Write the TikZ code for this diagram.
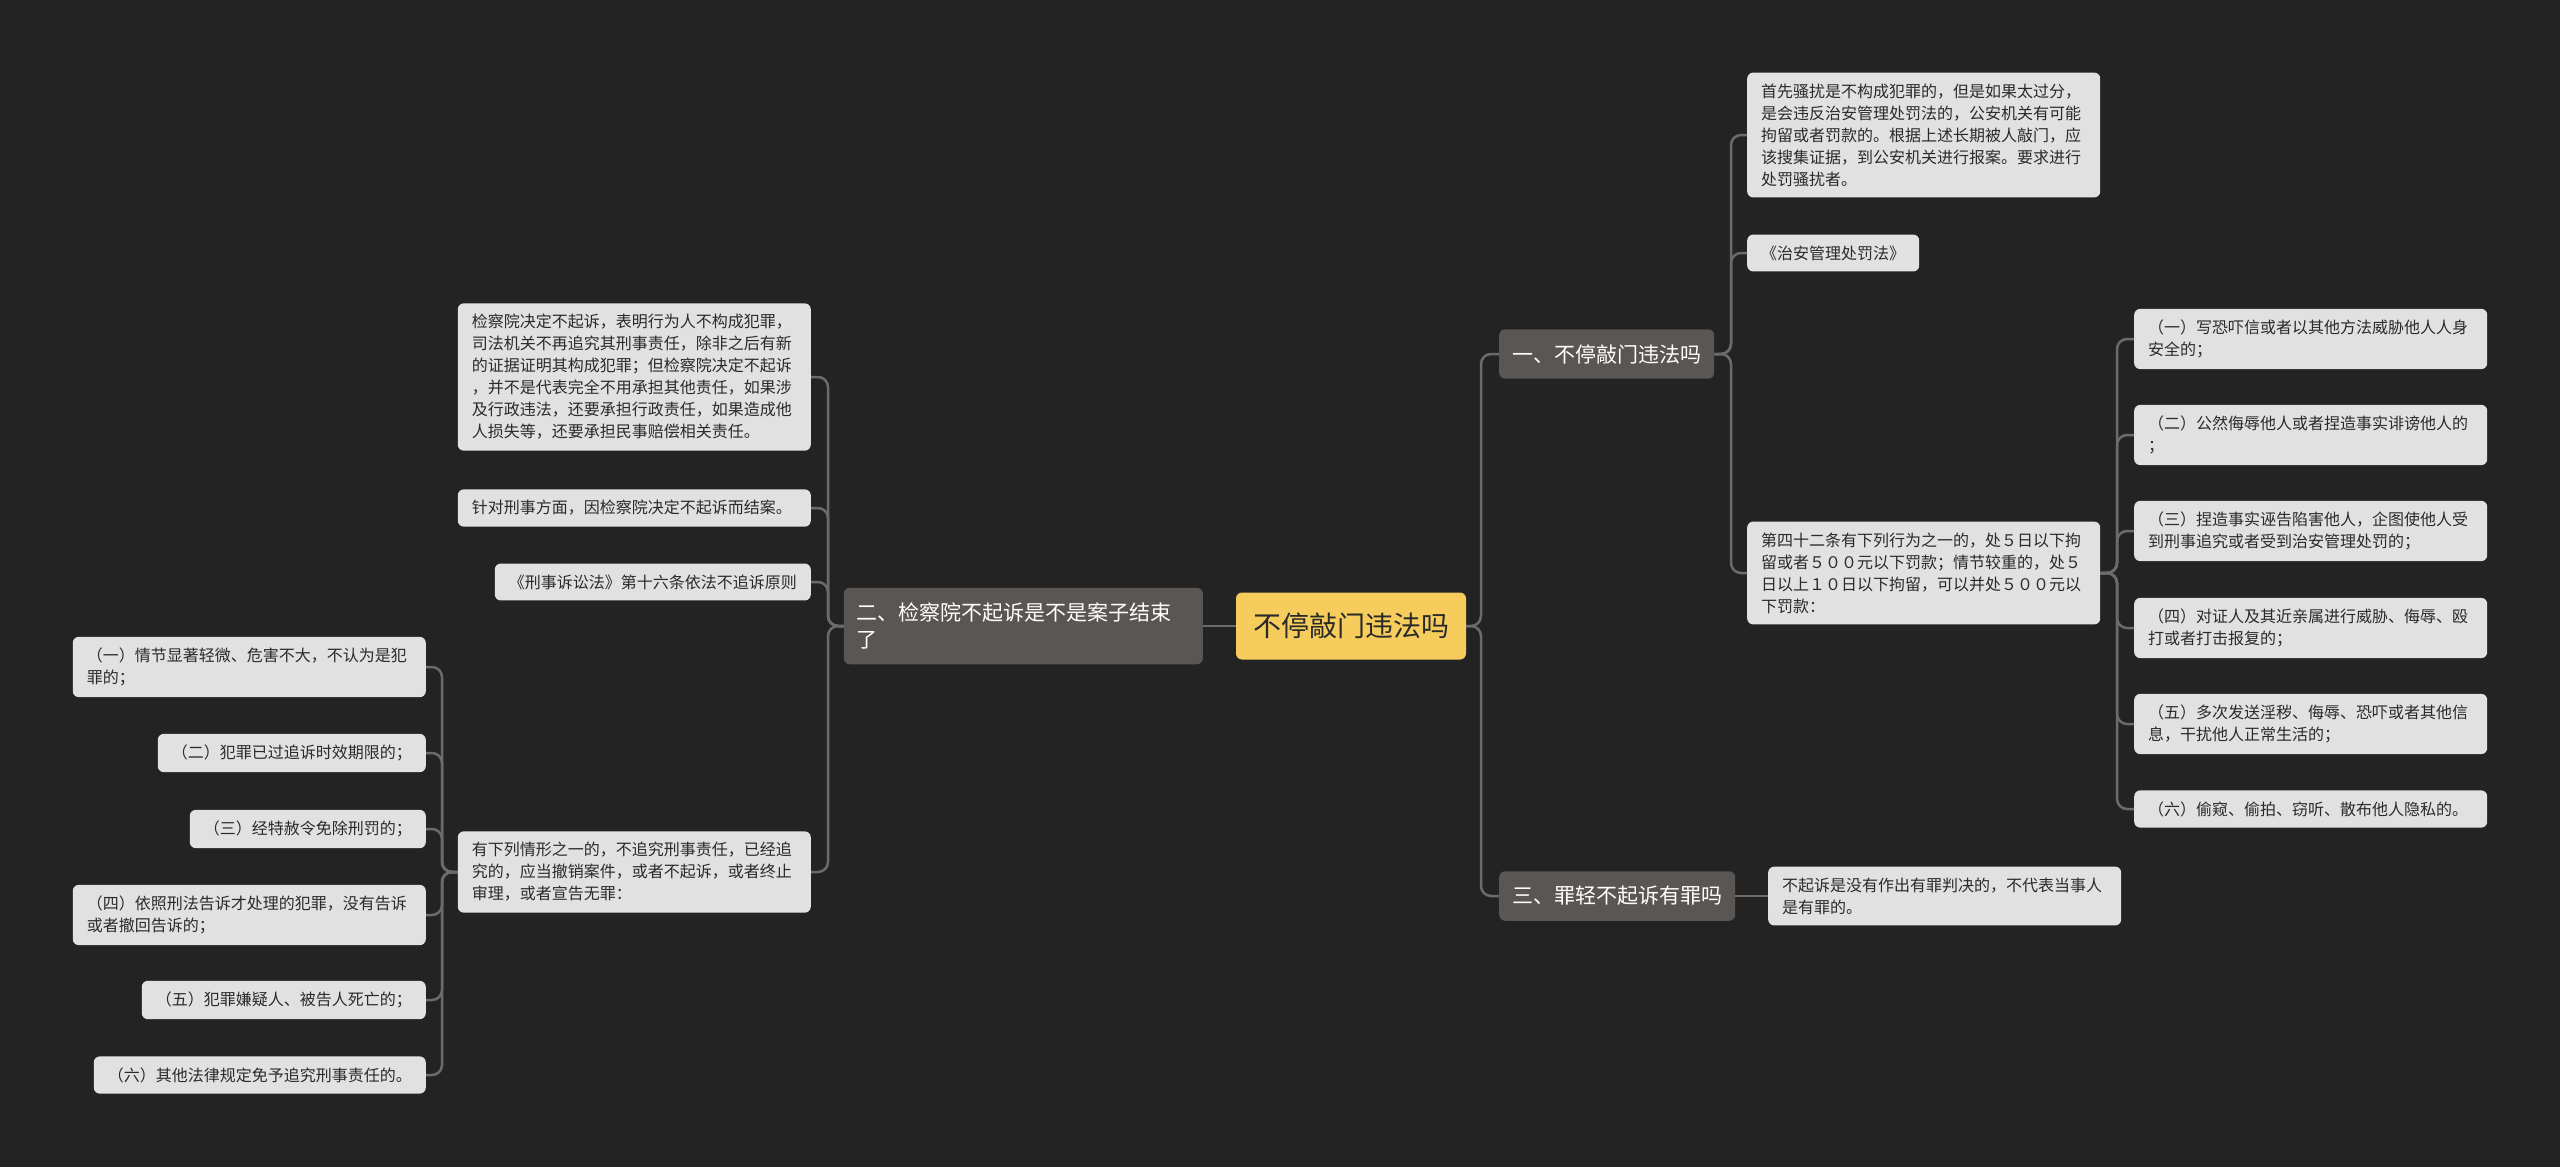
\documentclass[tikz,border=0pt]{standalone}
\usepackage{fontspec}
\setmainfont{Noto Sans CJK SC}
\usepackage{tikz}

\definecolor{fons}{HTML}{232323}
\definecolor{fullac}{HTML}{E1E1E1}
\definecolor{brancac}{HTML}{5A5654}
\definecolor{arrelc}{HTML}{F6CD5C}
\definecolor{liniac}{HTML}{6B6B6B}
\definecolor{textc}{HTML}{2A2A2A}

\tikzset{
  fulla/.style={fill=fullac, text=textc, rounded corners=6pt, align=left,
                inner xsep=14pt, inner ysep=11pt, font=\fontsize{16}{22}\selectfont},
  ample/.style={text width=325pt},
  branca/.style={fill=brancac, text=white, rounded corners=6pt, align=left,
                 inner xsep=13pt, inner ysep=15pt, font=\fontsize{21}{27}\selectfont},
  arrel/.style={fill=arrelc, text=textc, rounded corners=6pt, inner sep=2pt,
                minimum width=230pt, minimum height=67pt, font=\fontsize{28}{32}\selectfont},
  enllac/.style={draw=liniac, line width=2.5pt, rounded corners=10pt}
}

\begin{document}
\begin{tikzpicture}[x=1pt,y=-1pt]
        % Fons i marges
        \fill[fons] (0,0) rectangle (2560,1167);
        \useasboundingbox (0,0) rectangle (2560,1167);

        % Tema central i branques
        \node[arrel] (arrel) at (1351,626) {不停敲门违法吗};
        \node[branca,anchor=west] (b1) at (1499,354) {一、不停敲门违法吗};
        \node[branca,anchor=west] (b3) at (1499,896) {三、罪轻不起诉有罪吗};
        \node[branca,anchor=east,text width=333pt] (b2) at (1203,626) {二、检察院不起诉是不是案子结束\\了};

        % Branca 1
        \node[fulla,ample,anchor=west] (f1a) at (1747,135) {首先骚扰是不构成犯罪的，但是如果太过分，\\是会违反治安管理处罚法的，公安机关有可能\\拘留或者罚款的。根据上述长期被人敲门，应\\该搜集证据，到公安机关进行报案。要求进行\\处罚骚扰者。};
        \node[fulla,anchor=west] (f1b) at (1747,253) {《治安管理处罚法》};
        \node[fulla,ample,anchor=west] (f1c) at (1747,573) {第四十二条有下列行为之一的，处５日以下拘\\留或者５００元以下罚款；情节较重的，处５\\日以上１０日以下拘留，可以并处５００元以\\下罚款：};
        \node[fulla,ample,anchor=west] (r1) at (2134,339) {（一）写恐吓信或者以其他方法威胁他人人身\\安全的；};
        \node[fulla,ample,anchor=west] (r2) at (2134,435) {（二）公然侮辱他人或者捏造事实诽谤他人的\\；};
        \node[fulla,ample,anchor=west] (r3) at (2134,531) {（三）捏造事实诬告陷害他人，企图使他人受\\到刑事追究或者受到治安管理处罚的；};
        \node[fulla,ample,anchor=west] (r4) at (2134,628) {（四）对证人及其近亲属进行威胁、侮辱、殴\\打或者打击报复的；};
        \node[fulla,ample,anchor=west] (r5) at (2134,724) {（五）多次发送淫秽、侮辱、恐吓或者其他信\\息，干扰他人正常生活的；};
        \node[fulla,ample,anchor=west] (r6) at (2134,809) {（六）偷窥、偷拍、窃听、散布他人隐私的。};

        % Branca 3
        \node[fulla,ample,anchor=west] (f3) at (1768,896) {不起诉是没有作出有罪判决的，不代表当事人\\是有罪的。};

        % Branca 2
        \node[fulla,ample,anchor=east] (f2a) at (811,377) {检察院决定不起诉，表明行为人不构成犯罪，\\司法机关不再追究其刑事责任，除非之后有新\\的证据证明其构成犯罪；但检察院决定不起诉\\，并不是代表完全不用承担其他责任，如果涉\\及行政违法，还要承担行政责任，如果造成他\\人损失等，还要承担民事赔偿相关责任。};
        \node[fulla,ample,anchor=east] (f2b) at (811,508) {针对刑事方面，因检察院决定不起诉而结案。};
        \node[fulla,anchor=east] (f2c) at (811,582) {《刑事诉讼法》第十六条依法不追诉原则};
        \node[fulla,ample,anchor=east] (f2d) at (811,872) {有下列情形之一的，不追究刑事责任，已经追\\究的，应当撤销案件，或者不起诉，或者终止\\审理，或者宣告无罪：};
        \node[fulla,ample,anchor=east] (e1) at (426,667) {（一）情节显著轻微、危害不大，不认为是犯\\罪的；};
        \node[fulla,anchor=east] (e2) at (426,753) {（二）犯罪已过追诉时效期限的；};
        \node[fulla,anchor=east] (e3) at (426,829) {（三）经特赦令免除刑罚的；};
        \node[fulla,ample,anchor=east] (e4) at (426,915) {（四）依照刑法告诉才处理的犯罪，没有告诉\\或者撤回告诉的；};
        \node[fulla,anchor=east] (e5) at (426,1000) {（五）犯罪嫌疑人、被告人死亡的；};
        \node[fulla,anchor=east] (e6) at (426,1075) {（六）其他法律规定免予追究刑事责任的。};

        % Eixos verticals de les connexions
        \coordinate (t0) at (1481,0);
        \coordinate (t1) at (1731,0);
        \coordinate (t2) at (2117,0);
        \coordinate (t3) at (828,0);
        \coordinate (t4) at (442,0);

        % Connexions
        \draw[enllac] (arrel.west) -- (b2.east);
        \draw[enllac] (arrel.east) -- (arrel.east -| t0) |- (b1.west);
        \draw[enllac] (arrel.east) -- (arrel.east -| t0) |- (b3.west);
        \draw[enllac] (b3.east) -- (f3.west);
        \draw[enllac] (b1.east) -- (b1.east -| t1) |- (f1a.west);
        \draw[enllac] (b1.east) -- (b1.east -| t1) |- (f1b.west);
        \draw[enllac] (b1.east) -- (b1.east -| t1) |- (f1c.west);
        \draw[enllac] (f1c.east) -- (f1c.east -| t2) |- (r1.west);
        \draw[enllac] (f1c.east) -- (f1c.east -| t2) |- (r2.west);
        \draw[enllac] (f1c.east) -- (f1c.east -| t2) |- (r3.west);
        \draw[enllac] (f1c.east) -- (f1c.east -| t2) |- (r4.west);
        \draw[enllac] (f1c.east) -- (f1c.east -| t2) |- (r5.west);
        \draw[enllac] (f1c.east) -- (f1c.east -| t2) |- (r6.west);
        \draw[enllac] (b2.west) -- (b2.west -| t3) |- (f2a.east);
        \draw[enllac] (b2.west) -- (b2.west -| t3) |- (f2b.east);
        \draw[enllac] (b2.west) -- (b2.west -| t3) |- (f2c.east);
        \draw[enllac] (b2.west) -- (b2.west -| t3) |- (f2d.east);
        \draw[enllac] (f2d.west) -- (f2d.west -| t4) |- (e1.east);
        \draw[enllac] (f2d.west) -- (f2d.west -| t4) |- (e2.east);
        \draw[enllac] (f2d.west) -- (f2d.west -| t4) |- (e3.east);
        \draw[enllac] (f2d.west) -- (f2d.west -| t4) |- (e4.east);
        \draw[enllac] (f2d.west) -- (f2d.west -| t4) |- (e5.east);
        \draw[enllac] (f2d.west) -- (f2d.west -| t4) |- (e6.east);
    \end{tikzpicture}
\end{document}
